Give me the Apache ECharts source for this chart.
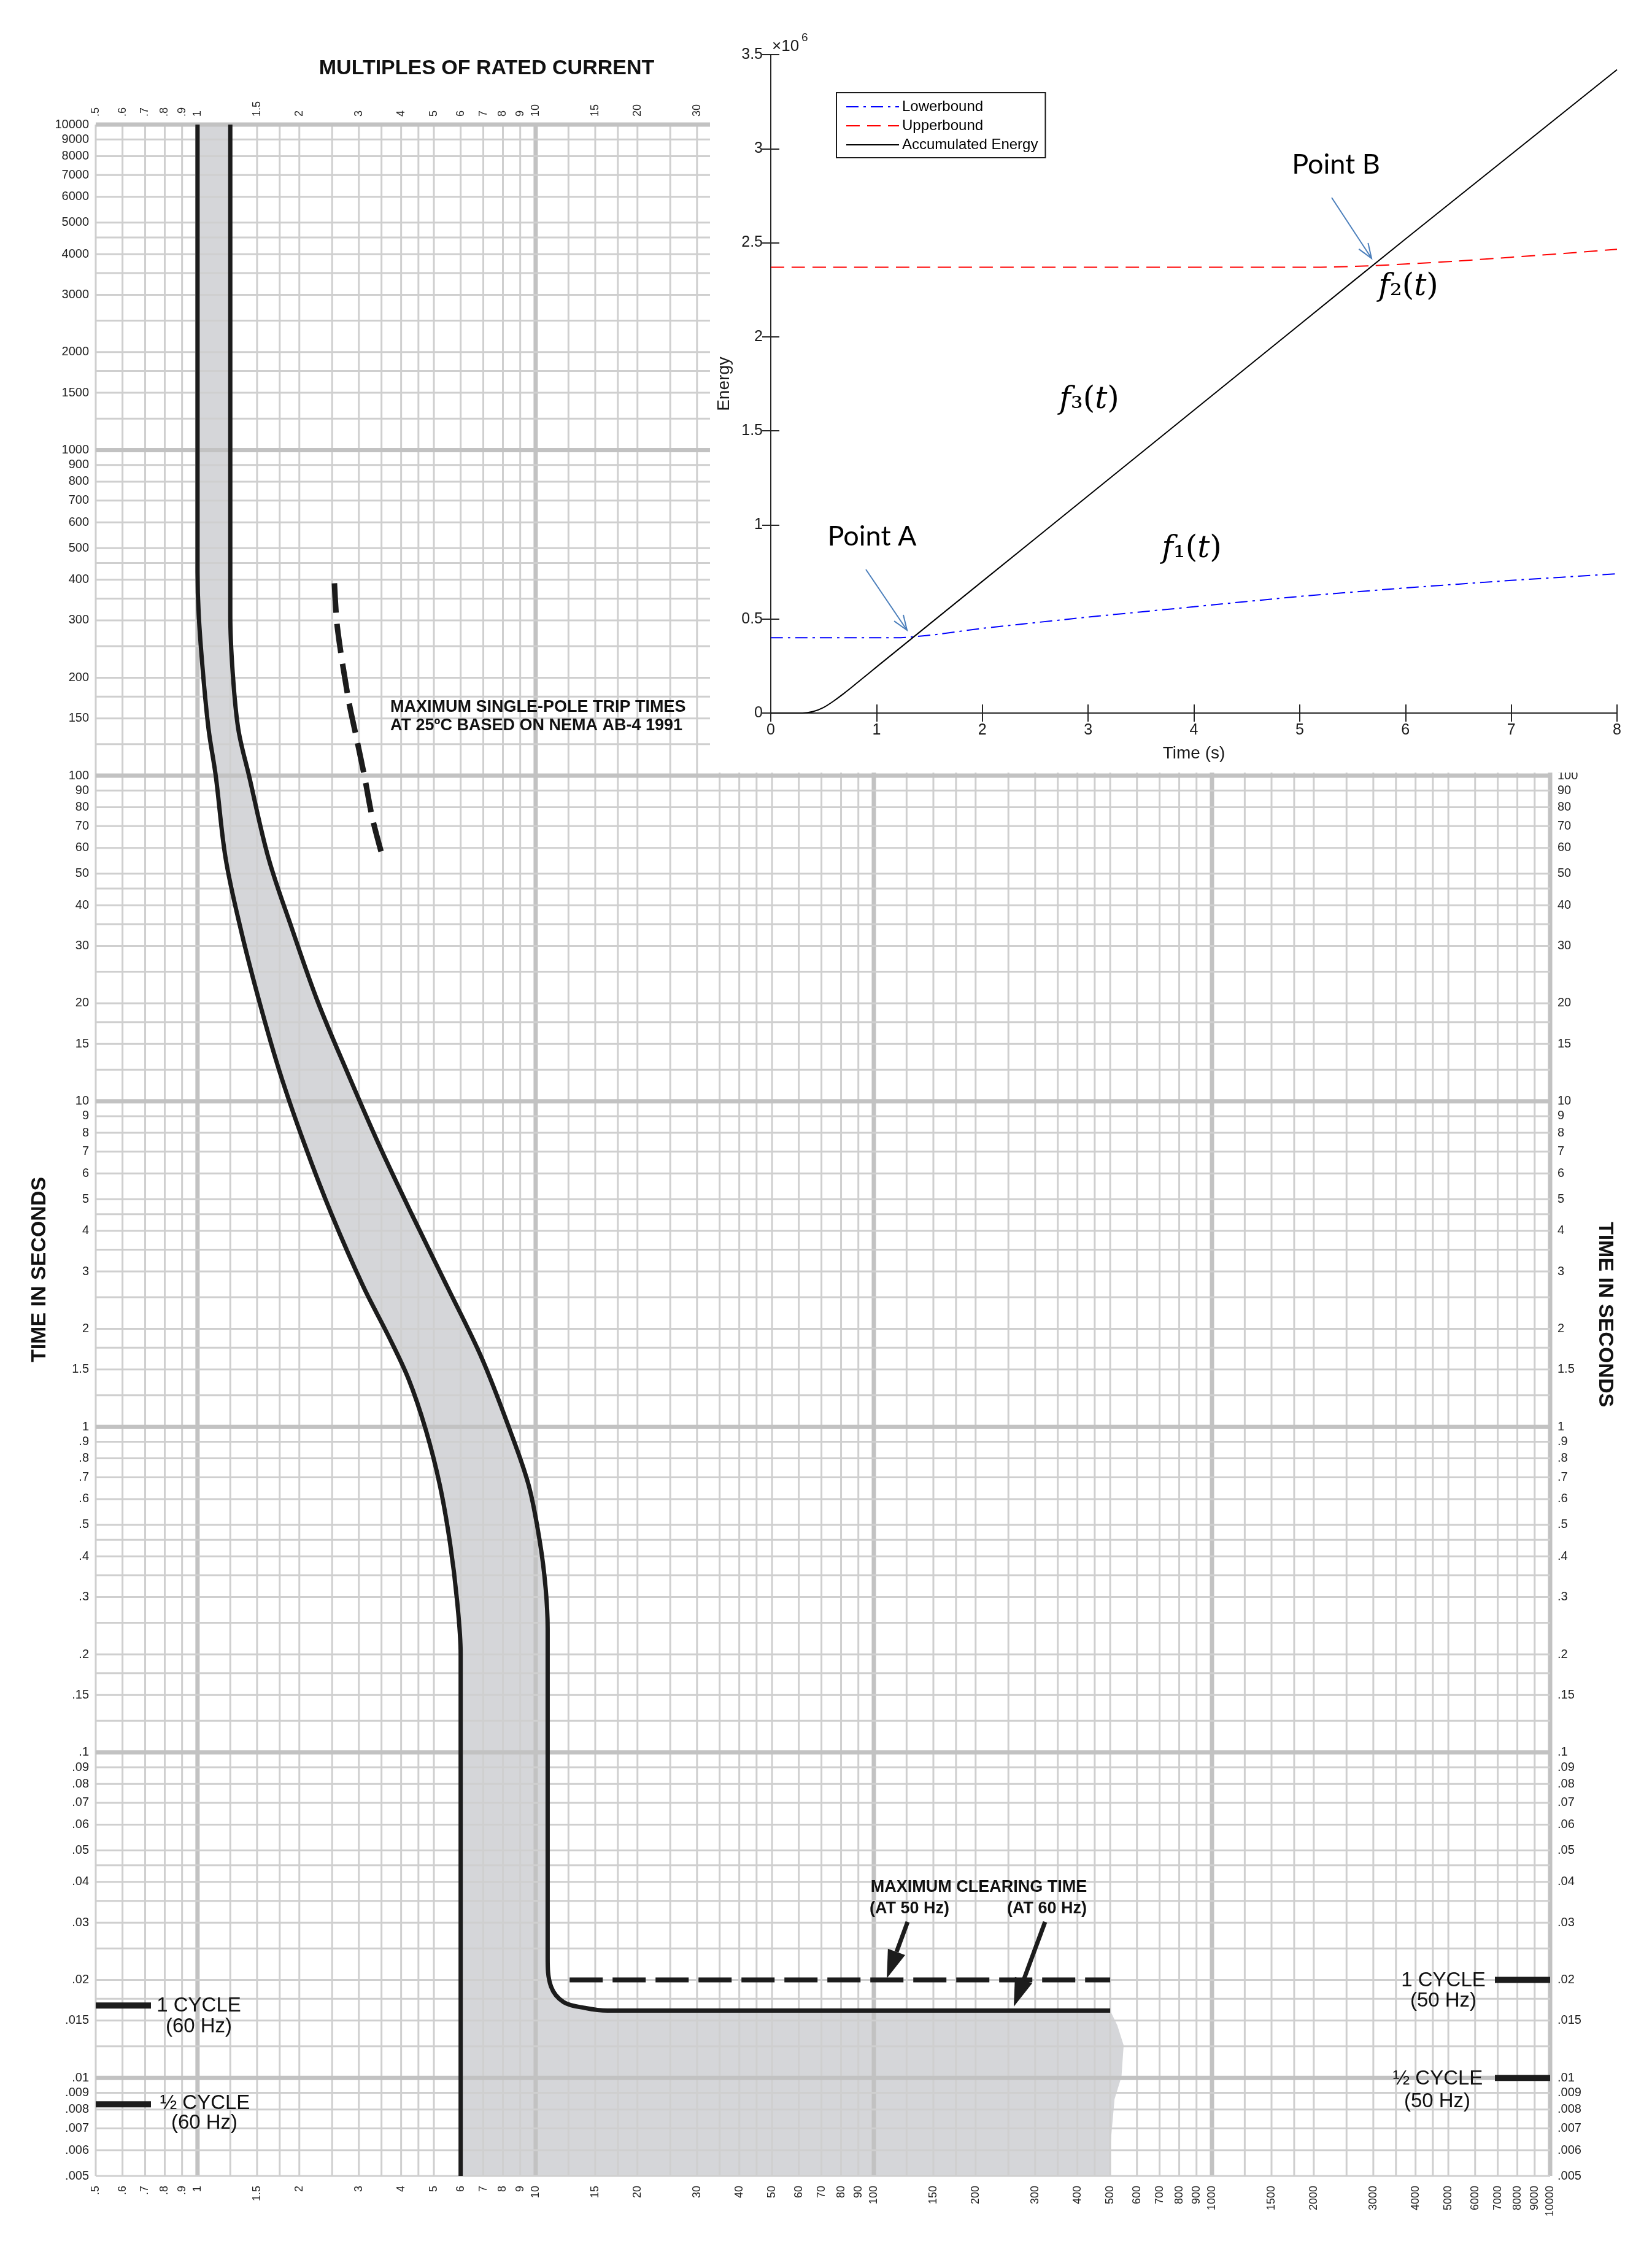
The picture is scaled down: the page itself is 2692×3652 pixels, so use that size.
<!DOCTYPE html>
<html>
<head>
<meta charset="utf-8">
<script src="https://cdn.jsdelivr.net/npm/echarts@6/dist/echarts.min.js"></script>
<style>
  html, body { margin: 0; padding: 0; background: #fff; }
  #chart { width: 2692px; height: 3652px; }
</style>
</head>
<body>
<div id="chart"></div>
<script>
// ---------- trip curve chart (log-log) ----------
const X_MIN = 0.5, X_MAX = 10000;
const Y_MIN = 0.005, Y_MAX = 10000;
// grid lines inside every decade
const GRID_STEPS = [1, 1.25, 1.5, 1.75, 2, 2.5, 3, 3.5, 4, 4.5, 5, 6, 7, 8, 9];

const X_LABELS_TOP = ['.5', '.6', '.7', '.8', '.9', '1', '1.5', '2', '3', '4', '5', '6', '7', '8', '9', '10', '15', '20', '30'];
const X_LABELS_BOTTOM = ['.5', '.6', '.7', '.8', '.9', '1', '1.5', '2', '3', '4', '5', '6', '7', '8', '9', '10', '15', '20', '30', '40', '50', '60', '70', '80', '90', '100', '150', '200', '300', '400', '500', '600', '700', '800', '900', '1000', '1500', '2000', '3000', '4000', '5000', '6000', '7000', '8000', '9000', '10000'];
const Y_LABELS_LEFT = ['10000', '9000', '8000', '7000', '6000', '5000', '4000', '3000', '2000', '1500', '1000', '900', '800', '700', '600', '500', '400', '300', '200', '150', '100', '90', '80', '70', '60', '50', '40', '30', '20', '15', '10', '9', '8', '7', '6', '5', '4', '3', '2', '1.5', '1', '.9', '.8', '.7', '.6', '.5', '.4', '.3', '.2', '.15', '.1', '.09', '.08', '.07', '.06', '.05', '.04', '.03', '.02', '.015', '.01', '.009', '.008', '.007', '.006', '.005'];
const Y_LABELS_RIGHT = Y_LABELS_LEFT.slice(Y_LABELS_LEFT.indexOf('100'));

// left (minimum) edge of the trip band: [multiple, seconds]
const TRIP_MIN = [
  [1.0, 10000], [1.0, 423], [1.008, 313], [1.037, 209], [1.078, 139], [1.132, 100],
  [1.21, 56], [1.34, 34], [1.52, 20.4], [1.75, 12.3], [2.07, 7.4], [2.49, 4.5],
  [3.09, 2.7], [3.67, 1.9], [4.21, 1.4], [4.73, 0.98], [5.21, 0.66], [5.58, 0.44],
  [5.86, 0.29], [6.0, 0.2], [6.0, 0.005]
];
// right (maximum) edge of the trip band
const TRIP_MAX = [
  [1.25, 10000], [1.25, 313], [1.27, 209], [1.32, 139], [1.42, 100], [1.62, 56],
  [1.9, 34], [2.26, 20.4], [2.77, 12.3], [3.43, 7.4], [4.3, 4.5], [5.47, 2.7],
  [6.92, 1.63], [8.38, 0.98], [9.54, 0.66], [10.3, 0.44], [10.7, 0.32], [10.85, 0.24],
  [10.85, 0.0234], [11.1, 0.0191], [12.1, 0.0171], [14.0, 0.0164], [16.3, 0.0161], [500, 0.0161]
];
// ragged right edge of the shaded area under the 60 Hz clearing line
const BAND_EDGE = [[500, 0.0161], [525, 0.0145], [548, 0.0126], [540, 0.0101], [515, 0.0086], [500, 0.0061], [498, 0.005]];
const SINGLE_POLE = [[2.54, 390], [2.59, 287], [2.79, 173], [2.95, 131], [3.12, 99], [3.29, 74], [3.53, 56]];
const CLEAR_50HZ = [[12.6, 0.02], [500, 0.02]];
const CYCLE_60HZ = [0.0167, 0.0083];
const CYCLE_50HZ = [0.02, 0.01];

// ---------- energy inset (values x 10^6) ----------
const ACC_T = [0, 0.3, 0.4, 0.5, 0.6, 0.7, 0.8, 0.9, 1, 2, 3, 4, 5, 6, 7, 8];
const ACC_E = [0, 0, 0.008, 0.03, 0.066, 0.108, 0.153, 0.199, 0.245, 0.70, 1.155, 1.61, 2.065, 2.52, 2.97, 3.42];
const LOW_T = [0, 1.2, 1.34, 1.6, 2, 3, 4, 5, 6, 7, 8];
const LOW_E = [0.4, 0.4, 0.405, 0.42, 0.45, 0.51, 0.565, 0.62, 0.665, 0.705, 0.74];
const UP_T = [0, 5.2, 5.7, 6, 6.5, 7, 7.5, 8];
const UP_E = [2.37, 2.37, 2.378, 2.387, 2.403, 2.423, 2.443, 2.465];

const zip = (a, b) => a.map((v, i) => [v, b[i]]);

function gridValues(min, max) {
  const out = [];
  for (let e = -3; e <= 4; e++) {
    GRID_STEPS.forEach(s => {
      const v = +(s * Math.pow(10, e)).toPrecision(6);
      if (v >= min && v <= max) out.push(v);
    });
  }
  return out;
}
const isDecade = v => Math.abs(Math.log10(v) - Math.round(Math.log10(v))) < 1e-9;

const MINOR = '#cfcfcf', MAJOR = '#c2c2c2', INK = '#1c1c1c';
const TICK_FONT = 'Liberation Sans';
const BOLD_FONT = 'Liberation Sans';

function lineEl(a, b, stroke, w) {
  return { type: 'line', shape: { x1: a[0], y1: a[1], x2: b[0], y2: b[1] }, style: { stroke, lineWidth: w } };
}

const band = TRIP_MIN.concat(BAND_EDGE.slice().reverse(), TRIP_MAX.slice().reverse());

function tickLabels(labels, side) {
  return {
    type: 'custom', xAxisIndex: 0, yAxisIndex: 0, z: 4, silent: true,
    data: labels.map(s => side === 'left' || side === 'right' ? [X_MIN, parseFloat(s)] : [parseFloat(s), Y_MIN]),
    renderItem(params, api) {
      const text = labels[params.dataIndex];
      const v = parseFloat(text);
      let p, el;
      if (side === 'left') {
        p = api.coord([X_MIN, v]);
        el = { x: p[0] - 11, y: p[1], style: { align: 'right', verticalAlign: 'middle' } };
      } else if (side === 'right') {
        p = api.coord([X_MAX, v]);
        el = { x: p[0] + 12, y: p[1], style: { align: 'left', verticalAlign: 'middle' } };
      } else if (side === 'top') {
        p = api.coord([v, Y_MAX]);
        el = { x: p[0], y: p[1] - 13, rotation: Math.PI / 2, style: { align: 'left', verticalAlign: 'middle' } };
      } else {
        p = api.coord([v, Y_MIN]);
        el = { x: p[0], y: p[1] + 16, rotation: Math.PI / 2, style: { align: 'right', verticalAlign: 'middle' } };
      }
      el.type = 'text';
      Object.assign(el.style, {
        text, fill: '#222', fontFamily: TICK_FONT,
        fontSize: side === 'left' || side === 'right' ? 20 : 18
      });
      return el;
    }
  };
}

function arrow(from, to, o) {
  const dx = to[0] - from[0], dy = to[1] - from[1];
  const len = Math.hypot(dx, dy), ux = dx / len, uy = dy / len;
  const bx = to[0] - ux * o.head, by = to[1] - uy * o.head;
  const w1 = [bx - uy * o.half, by + ux * o.half], w2 = [bx + uy * o.half, by - ux * o.half];
  if (o.filled) {
    return [
      { type: 'line', z: 6, shape: { x1: from[0], y1: from[1], x2: bx, y2: by }, style: { stroke: o.color, lineWidth: o.width } },
      { type: 'polygon', z: 6, shape: { points: [to, w1, w2] }, style: { fill: o.color } }
    ];
  }
  return [
    { type: 'line', z: 12, shape: { x1: from[0], y1: from[1], x2: to[0], y2: to[1] }, style: { stroke: o.color, lineWidth: o.width } },
    { type: 'polyline', z: 12, shape: { points: [w1, to, w2] }, style: { stroke: o.color, lineWidth: o.width, fill: null } }
  ];
}

function txt(x, y, text, size, opts) {
  return Object.assign({
    type: 'text', x, y, z: 6,
    style: Object.assign({
      text, fill: '#111', fontFamily: BOLD_FONT, fontSize: size, fontWeight: 'bold',
      align: 'center', verticalAlign: 'middle'
    }, opts && opts.style)
  }, opts && opts.el);
}

function fLabel(x, y, sub) {
  return {
    type: 'text', x, y, z: 12,
    style: {
      text: '{i|f}' + sub + '({i|t})', fontFamily: 'DejaVu Serif', fontSize: 50, fill: '#000',
      align: 'center', verticalAlign: 'middle',
      rich: { i: { fontFamily: 'DejaVu Serif', fontStyle: 'italic', fontSize: 50 } }
    }
  };
}

const xGrid = gridValues(X_MIN, X_MAX);
const yGrid = gridValues(Y_MIN, Y_MAX);

const insetAxisLine = { lineStyle: { color: '#262626', width: 2 } };
const insetTick = { inside: true, length: 14, lineStyle: { color: '#262626', width: 2 } };
const insetLabel = { fontFamily: 'Liberation Sans', fontSize: 25, color: '#1a1a1a' };

const option = {
  backgroundColor: '#fff',
  animation: false,
  grid: [
    { left: 156, right: 166, top: 203, bottom: 106 },
    { left: 1256, top: 89, width: 1379, height: 1073 }
  ],
  xAxis: [
    { gridIndex: 0, type: 'log', logBase: 10, min: X_MIN, max: X_MAX, show: false },
    {
      gridIndex: 1, type: 'value', min: 0, max: 8, interval: 1, position: 'bottom', z: 10,
      axisLine: insetAxisLine, axisTick: insetTick, splitLine: { show: false },
      axisLabel: Object.assign({ margin: 16 }, insetLabel),
      name: 'Time (s)', nameLocation: 'middle', nameGap: 52,
      nameTextStyle: { fontFamily: 'Liberation Sans', fontSize: 28, color: '#1a1a1a' }
    },
    {
      gridIndex: 1, type: 'value', min: 0, max: 8, interval: 1, position: 'top', z: 10,
      axisLine: insetAxisLine, axisTick: insetTick, splitLine: { show: false }, axisLabel: { show: false }
    }
  ],
  yAxis: [
    { gridIndex: 0, type: 'log', logBase: 10, min: Y_MIN, max: Y_MAX, show: false },
    {
      gridIndex: 1, type: 'value', min: 0, max: 3.5, interval: 0.5, position: 'left', z: 10,
      axisLine: insetAxisLine, axisTick: insetTick, splitLine: { show: false },
      axisLabel: Object.assign({ margin: 13 }, insetLabel),
      name: 'Energy', nameLocation: 'middle', nameGap: 62, nameRotate: 90,
      nameTextStyle: { fontFamily: 'Liberation Sans', fontSize: 28, color: '#1a1a1a' }
    },
    {
      gridIndex: 1, type: 'value', min: 0, max: 3.5, interval: 0.5, position: 'right', z: 10,
      axisLine: insetAxisLine, axisTick: insetTick, splitLine: { show: false }, axisLabel: { show: false }
    }
  ],
  legend: {
    data: ['Lowerbound', 'Upperbound', 'Accumulated Energy'],
    orient: 'vertical', left: 1363, top: 151, z: 10, selectedMode: false,
    itemWidth: 86, itemHeight: 14, itemGap: 5, padding: [10, 12, 8, 15],
    itemStyle: { opacity: 0 },
    borderColor: '#1a1a1a', borderWidth: 2, borderRadius: 0, backgroundColor: '#fff',
    textStyle: { fontFamily: 'Liberation Sans', fontSize: 24, color: '#000', lineHeight: 26 }
  },
  series: [
    // shaded band
    {
      type: 'custom', xAxisIndex: 0, yAxisIndex: 0, z: 1, silent: true, data: [[1, 1]],
      renderItem: (p, api) => ({
        type: 'polygon', shape: { points: band.map(pt => api.coord(pt)) }, style: { fill: '#d5d6d9' }
      })
    },
    // vertical grid lines
    {
      type: 'custom', xAxisIndex: 0, yAxisIndex: 0, z: 2, silent: true,
      data: xGrid.map(v => [v, Y_MIN]),
      renderItem(p, api) {
        const v = api.value(0), major = isDecade(v);
        return lineEl(api.coord([v, Y_MIN]), api.coord([v, Y_MAX]), major ? MAJOR : MINOR, major ? 7 : 3);
      }
    },
    // horizontal grid lines
    {
      type: 'custom', xAxisIndex: 0, yAxisIndex: 0, z: 2, silent: true,
      data: yGrid.map(v => [X_MIN, v]),
      renderItem(p, api) {
        const v = api.value(1), major = isDecade(v);
        return lineEl(api.coord([X_MIN, v]), api.coord([X_MAX, v]), major ? MAJOR : MINOR, major ? 7 : 3);
      }
    },
    tickLabels(Y_LABELS_LEFT, 'left'),
    tickLabels(Y_LABELS_RIGHT, 'right'),
    tickLabels(X_LABELS_TOP, 'top'),
    tickLabels(X_LABELS_BOTTOM, 'bottom'),
    {
      type: 'line', xAxisIndex: 0, yAxisIndex: 0, z: 3, silent: true, symbol: 'none', smooth: 0.35,
      data: TRIP_MIN, lineStyle: { color: INK, width: 7 }
    },
    {
      type: 'line', xAxisIndex: 0, yAxisIndex: 0, z: 3, silent: true, symbol: 'none', smooth: 0.35,
      data: TRIP_MAX, lineStyle: { color: INK, width: 7 }
    },
    {
      type: 'line', xAxisIndex: 0, yAxisIndex: 0, z: 3, silent: true, symbol: 'none', smooth: 0.3,
      data: SINGLE_POLE, lineStyle: { color: INK, width: 9, type: [48, 18], cap: 'butt' }
    },
    {
      type: 'line', xAxisIndex: 0, yAxisIndex: 0, z: 3, silent: true, symbol: 'none',
      data: CLEAR_50HZ, lineStyle: { color: INK, width: 8, type: [54, 16], cap: 'butt' }
    },
    // cycle markers on both sides
    {
      type: 'custom', xAxisIndex: 0, yAxisIndex: 0, z: 3, silent: true,
      data: CYCLE_60HZ.map(v => [X_MIN, v]),
      renderItem(p, api) {
        const c = api.coord([X_MIN, api.value(1)]);
        return { type: 'rect', shape: { x: c[0], y: c[1] - 5, width: 90, height: 10 }, style: { fill: INK } };
      }
    },
    {
      type: 'custom', xAxisIndex: 0, yAxisIndex: 0, z: 3, silent: true,
      data: CYCLE_50HZ.map(v => [X_MAX, v]),
      renderItem(p, api) {
        const c = api.coord([X_MAX, api.value(1)]);
        return { type: 'rect', shape: { x: c[0] - 90, y: c[1] - 5, width: 90, height: 10 }, style: { fill: INK } };
      }
    },
    // inset series
    {
      name: 'Lowerbound', type: 'line', xAxisIndex: 1, yAxisIndex: 1, z: 10, symbol: 'none', smooth: 0.2,
      data: zip(LOW_T, LOW_E), itemStyle: { color: '#0000ff' },
      lineStyle: { color: '#0000ff', width: 2, type: [20, 8, 4, 8] }
    },
    {
      name: 'Upperbound', type: 'line', xAxisIndex: 1, yAxisIndex: 1, z: 10, symbol: 'none', smooth: 0.2,
      data: zip(UP_T, UP_E), itemStyle: { color: '#ff0000' },
      lineStyle: { color: '#ff0000', width: 2, type: [22, 12] }
    },
    {
      name: 'Accumulated Energy', type: 'line', xAxisIndex: 1, yAxisIndex: 1, z: 10, symbol: 'none', smooth: 0.3,
      data: zip(ACC_T, ACC_E), itemStyle: { color: '#000' },
      lineStyle: { color: '#000', width: 2 }
    }
  ],
  graphic: [
    // white panel behind the inset plot
    { type: 'rect', z: 5, silent: true, shape: { x: 1157, y: 0, width: 1535, height: 1259 }, style: { fill: '#fff' } },
    txt(793, 112, 'MULTIPLES OF RATED CURRENT', 34),
    txt(65, 2069, 'TIME IN SECONDS', 34, { el: { rotation: Math.PI / 2 } }),
    txt(2615, 2142, 'TIME IN SECONDS', 34, { el: { rotation: -Math.PI / 2 } }),
    txt(636, 1153, 'MAXIMUM SINGLE-POLE TRIP TIMES', 27, { style: { align: 'left' } }),
    txt(636, 1183, 'AT 25ºC BASED ON NEMA AB-4 1991', 27, { style: { align: 'left' } }),
    txt(1595, 3076, 'MAXIMUM CLEARING TIME', 27),
    txt(1482, 3111, '(AT 50 Hz)', 27),
    txt(1706, 3111, '(AT 60 Hz)', 27),
    txt(324, 3269, '1 CYCLE', 33, { style: { fontWeight: 'normal' } }),
    txt(324, 3303, '(60 Hz)', 33, { style: { fontWeight: 'normal' } }),
    txt(334, 3428, '½ CYCLE', 33, { style: { fontWeight: 'normal' } }),
    txt(333, 3460, '(60 Hz)', 33, { style: { fontWeight: 'normal' } }),
    txt(2352, 3228, '1 CYCLE', 33, { style: { fontWeight: 'normal' } }),
    txt(2352, 3261, '(50 Hz)', 33, { style: { fontWeight: 'normal' } }),
    txt(2343, 3388, '½ CYCLE', 33, { style: { fontWeight: 'normal' } }),
    txt(2342, 3425, '(50 Hz)', 33, { style: { fontWeight: 'normal' } }),
    ...arrow([1479, 3132], [1445, 3224], { color: INK, width: 7, head: 46, half: 15, filled: true }),
    ...arrow([1703, 3132], [1652, 3270], { color: INK, width: 7, head: 46, half: 15, filled: true }),
    // inset annotations
    { type: 'text', x: 1258, y: 76, z: 12, style: { text: '×10', fontFamily: 'Liberation Sans', fontSize: 26, fill: '#1a1a1a', align: 'left', verticalAlign: 'middle' } },
    { type: 'text', x: 1306, y: 62, z: 12, style: { text: '6', fontFamily: 'Liberation Sans', fontSize: 19, fill: '#1a1a1a', align: 'left', verticalAlign: 'middle' } },
    { type: 'text', x: 1421, y: 874, z: 12, style: { text: 'Point A', fontFamily: 'Lato', fontSize: 45, fill: '#000', align: 'center', verticalAlign: 'middle' } },
    { type: 'text', x: 2177, y: 268, z: 12, style: { text: 'Point B', fontFamily: 'Lato', fontSize: 45, fill: '#000', align: 'center', verticalAlign: 'middle' } },
    ...arrow([1411, 928], [1478, 1027], { color: '#4a7ebb', width: 2, head: 24, half: 9 }),
    ...arrow([2170, 322], [2235, 421], { color: '#4a7ebb', width: 2, head: 24, half: 9 }),
    fLabel(1775, 652, '₃'),
    fLabel(1942, 895, '₁'),
    fLabel(2295, 468, '₂')
  ]
};

const chart = echarts.init(document.getElementById('chart'));
chart.setOption(option);
</script>
</body>
</html>
